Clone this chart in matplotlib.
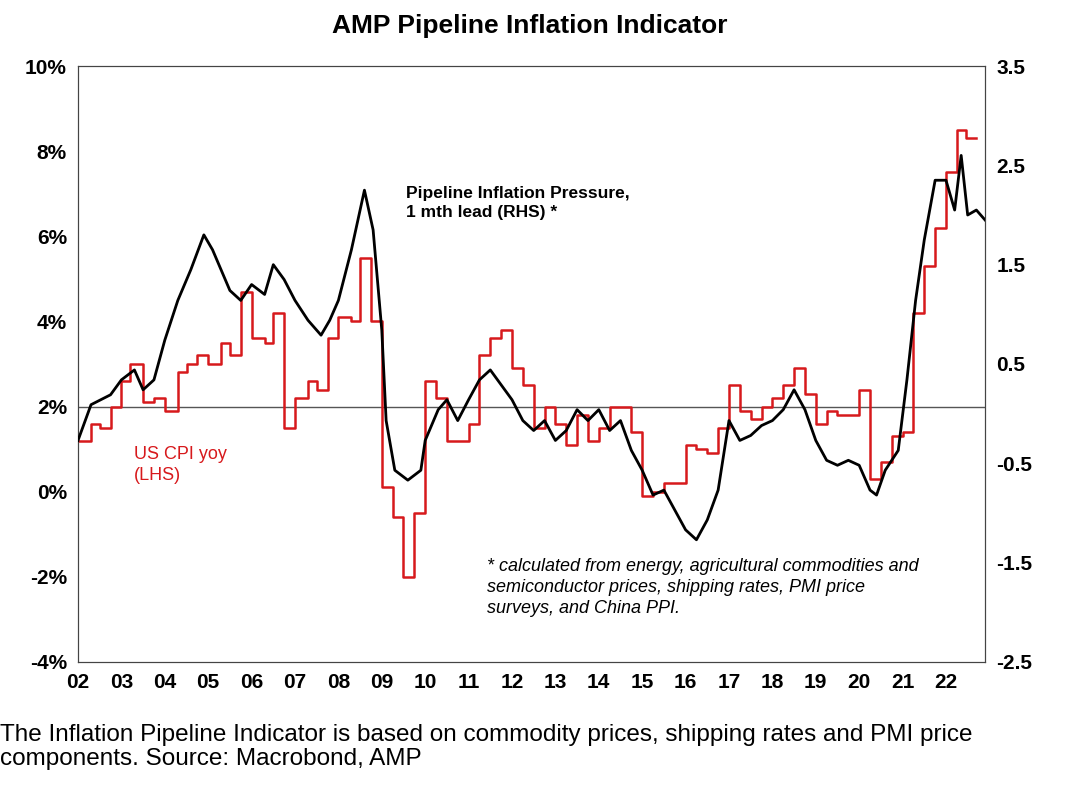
import numpy as np
import matplotlib.pyplot as plt

plt.rcParams['font.family'] = ['Liberation Sans', 'DejaVu Sans']

# US CPI yoy (LHS, %)
cpi_t = [2002.0, 2002.3, 2002.5, 2002.75, 2003.0, 2003.2, 2003.5, 2003.75, 2004.0, 2004.3,
         2004.5, 2004.75, 2005.0, 2005.3, 2005.5, 2005.75, 2006.0, 2006.3, 2006.5, 2006.75,
         2007.0, 2007.3, 2007.5, 2007.75, 2008.0, 2008.3, 2008.5, 2008.75, 2009.0, 2009.25,
         2009.5, 2009.75, 2010.0, 2010.25, 2010.5, 2010.75, 2011.0, 2011.25, 2011.5, 2011.75,
         2012.0, 2012.25, 2012.5, 2012.75, 2013.0, 2013.25, 2013.5, 2013.75, 2014.0, 2014.25,
         2014.5, 2014.75, 2015.0, 2015.25, 2015.5, 2015.75, 2016.0, 2016.25, 2016.5, 2016.75,
         2017.0, 2017.25, 2017.5, 2017.75, 2018.0, 2018.25, 2018.5, 2018.75, 2019.0, 2019.25,
         2019.5, 2019.75, 2020.0, 2020.25, 2020.5, 2020.75, 2021.0, 2021.25, 2021.5, 2021.75,
         2022.0, 2022.25, 2022.45, 2022.7]
cpi_v = [1.2, 1.6, 1.5, 2.0, 2.6, 3.0, 2.1, 2.2, 1.9, 2.8,
         3.0, 3.2, 3.0, 3.5, 3.2, 4.7, 3.6, 3.5, 4.2, 1.5,
         2.2, 2.6, 2.4, 3.6, 4.1, 4.0, 5.5, 4.0, 0.1, -0.6,
         -2.0, -0.5, 2.6, 2.2, 1.2, 1.2, 1.6, 3.2, 3.6, 3.8,
         2.9, 2.5, 1.5, 2.0, 1.6, 1.1, 1.8, 1.2, 1.5, 2.0,
         2.0, 1.4, -0.1, 0.0, 0.2, 0.2, 1.1, 1.0, 0.9, 1.5,
         2.5, 1.9, 1.7, 2.0, 2.2, 2.5, 2.9, 2.3, 1.6, 1.9,
         1.8, 1.8, 2.4, 0.3, 0.7, 1.3, 1.4, 4.2, 5.3, 6.2,
         7.5, 8.5, 8.3, 8.3]

# Pipeline inflation pressure (RHS)
pip_t = [2002.0, 2002.3, 2002.75, 2003.0, 2003.3, 2003.5, 2003.75, 2004.0, 2004.3, 2004.6,
         2004.9, 2005.1, 2005.5, 2005.75, 2006.0, 2006.3, 2006.5, 2006.75, 2007.0, 2007.3,
         2007.6, 2007.8, 2008.0, 2008.3, 2008.6, 2008.8, 2009.0, 2009.1, 2009.3, 2009.6,
         2009.9, 2010.0, 2010.3, 2010.5, 2010.75, 2011.0, 2011.25, 2011.5, 2011.75, 2012.0,
         2012.25, 2012.5, 2012.75, 2013.0, 2013.25, 2013.5, 2013.75, 2014.0, 2014.25, 2014.5,
         2014.75, 2015.0, 2015.25, 2015.5, 2015.75, 2016.0, 2016.25, 2016.5, 2016.75, 2017.0,
         2017.25, 2017.5, 2017.75, 2018.0, 2018.25, 2018.5, 2018.75, 2019.0, 2019.25, 2019.5,
         2019.75, 2020.0, 2020.25, 2020.4, 2020.6, 2020.9, 2021.1, 2021.3, 2021.5, 2021.75,
         2022.0, 2022.2, 2022.35, 2022.5, 2022.7, 2022.9]
pip_v = [-0.27, 0.09, 0.19, 0.34, 0.44, 0.24, 0.34, 0.74, 1.14, 1.45,
         1.8, 1.65, 1.24, 1.14, 1.3, 1.2, 1.5, 1.35, 1.14, 0.94,
         0.79, 0.94, 1.14, 1.65, 2.25, 1.85, 0.84, -0.07, -0.57, -0.67,
         -0.57, -0.27, 0.04, 0.14, -0.07, 0.14, 0.34, 0.44, 0.29, 0.14,
         -0.07, -0.17, -0.07, -0.27, -0.17, 0.04, -0.07, 0.04, -0.17, -0.07,
         -0.37, -0.57, -0.82, -0.77, -0.97, -1.17, -1.27, -1.07, -0.77, -0.07,
         -0.27, -0.22, -0.12, -0.07, 0.04, 0.24, 0.04, -0.27, -0.47, -0.52,
         -0.47, -0.52, -0.77, -0.82, -0.57, -0.37, 0.34, 1.14, 1.75, 2.35,
         2.35, 2.05, 2.6, 2.0, 2.05, 1.95]

years = list(range(2002, 2023))
year_labels = ['%02d' % (y % 100) for y in years]

fig = plt.figure(figsize=(10.7, 7.88), dpi=100)
ax = fig.add_axes([0.0729, 0.16, 0.8477, 0.7562])
ax2 = ax.twinx()

ax.axhline(2, color='#555555', lw=1)
ax.step(cpi_t, cpi_v, where='post', color='#d7191c', lw=1.8, zorder=3)
ax2.plot(pip_t, pip_v, color='black', lw=2, zorder=4)

ax.set_xlim(2002, 2022.9)
ax.set_ylim(-4, 10)
ax2.set_ylim(-2.5, 3.5)
ax.set_yticks(range(-4, 11, 2))
ax.set_yticklabels(['%d%%' % v for v in range(-4, 11, 2)])
ax2.set_yticks(np.arange(-2.5, 3.6, 1.0))
ax2.set_yticklabels(['%.1f' % v for v in np.arange(-2.5, 3.6, 1.0)])
ax.set_xticks(years)
ax.set_xticklabels(year_labels)
for a in (ax, ax2):
    a.tick_params(length=0, labelsize=15, pad=8)
    for lab in a.get_xticklabels() + a.get_yticklabels():
        lab.set_fontweight('bold')
    for s in a.spines.values():
        s.set_color('#444444')
        s.set_linewidth(0.8)

fig.text(0.495, 0.967, 'AMP Pipeline Inflation Indicator', ha='center', va='center',
         fontsize=19, fontweight='bold')
ax.text(0.362, 0.77, 'Pipeline Inflation Pressure,\n1 mth lead (RHS) *', transform=ax.transAxes,
        fontsize=12.5, va='center', linespacing=1.35, fontweight='semibold')
ax.text(0.062, 0.33, 'US CPI yoy\n(LHS)', transform=ax.transAxes, color='#d7191c',
        fontsize=13, va='center', linespacing=1.3)
ax.text(0.451, 0.125, '* calculated from energy, agricultural commodities and\n'
        'semiconductor prices, shipping rates, PMI price\nsurveys, and China PPI.',
        transform=ax.transAxes, fontsize=13, style='italic', va='center', linespacing=1.3)
fig.text(0.0, 0.052, 'The Inflation Pipeline Indicator is based on commodity prices, shipping rates and PMI price\n'
         'components. Source: Macrobond, AMP', fontsize=17.5, va='center', linespacing=1.15)

fig.savefig('out.png', dpi=100)
